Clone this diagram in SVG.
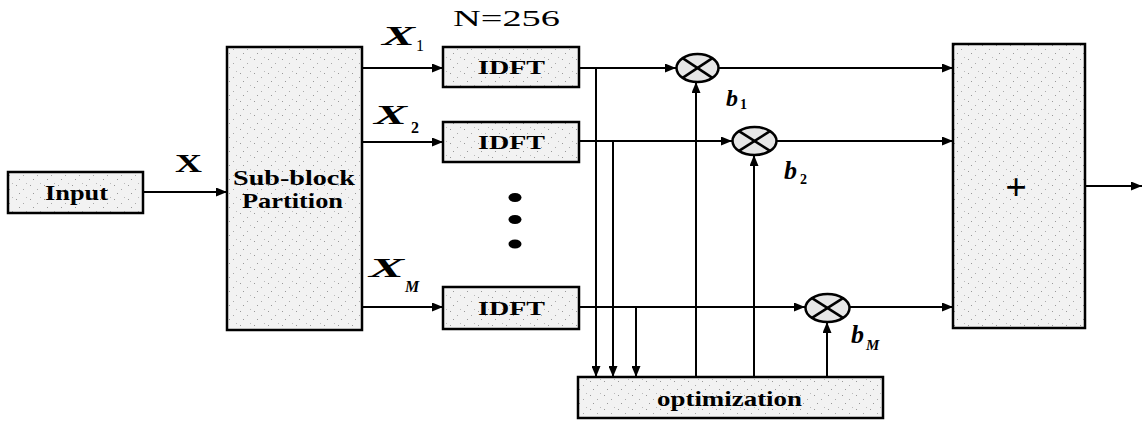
<svg xmlns="http://www.w3.org/2000/svg" width="1142" height="421" viewBox="0 0 1142 421">
<style>
.box{fill:url(#speck);stroke:#000;stroke-width:2.5}
.mul{fill:#e6e6e6;stroke:#000;stroke-width:2.5}
.cross{stroke:#000;stroke-width:2.5}
.arr{stroke:#000;stroke-width:2;fill:none;marker-end:url(#ah)}
.lbl{font-family:"Liberation Serif","Times New Roman",serif;font-weight:bold;fill:#000}
.it{font-family:"Liberation Serif","Times New Roman",serif;font-weight:bold;font-style:italic;fill:#000}
.rg{font-family:"Liberation Serif","Times New Roman",serif;fill:#000}
</style>
<defs>
<pattern id="speck" width="14" height="14" patternUnits="userSpaceOnUse">
<rect width="14" height="14" fill="#f2f2f2"/>
<rect x="2" y="3" width="1" height="1" fill="#999"/>
<rect x="9" y="7" width="1" height="1" fill="#aaa"/>
<rect x="5" y="11" width="1" height="1" fill="#999"/>
<rect x="12" y="1" width="1" height="1" fill="#bbb"/>
</pattern>
<marker id="ah" viewBox="0 0 11 9" refX="11" refY="4.5" markerWidth="11" markerHeight="9" markerUnits="userSpaceOnUse" orient="auto">
<path d="M0,0 L11,4.5 L0,9 Z" fill="#000"/>
</marker>
</defs>

<g id="connectors">
<line class="arr" x1="143" y1="192" x2="227" y2="192"/>
<line class="arr" x1="362" y1="68" x2="443" y2="68"/>
<line class="arr" x1="362" y1="142" x2="443" y2="142"/>
<line class="arr" x1="362" y1="307" x2="443" y2="307"/>
<line class="arr" x1="579" y1="68" x2="676" y2="68"/>
<line class="arr" x1="579" y1="141" x2="732" y2="141"/>
<line class="arr" x1="579" y1="307" x2="805" y2="307"/>
<line class="arr" x1="719" y1="68" x2="953" y2="68"/>
<line class="arr" x1="777" y1="141" x2="953" y2="141"/>
<line class="arr" x1="850" y1="307" x2="953" y2="307"/>
<line class="arr" x1="1085" y1="186" x2="1142" y2="186"/>
<line class="arr" x1="596" y1="68" x2="596" y2="377"/>
<line class="arr" x1="613" y1="141" x2="613" y2="377"/>
<line class="arr" x1="636" y1="307" x2="636" y2="377"/>
<line class="arr" x1="696" y1="377" x2="696" y2="82"/>
<line class="arr" x1="754" y1="377" x2="754" y2="155"/>
<line class="arr" x1="827" y1="377" x2="827" y2="322"/>
</g>

<g id="input">
<rect class="box" x="8" y="172" width="135" height="41"/>
<text class="lbl" x="45" y="200" font-size="21" textLength="63" lengthAdjust="spacingAndGlyphs">Input</text>
</g>
<g id="x-label">
<text class="lbl" x="175" y="172" font-size="26" textLength="27" lengthAdjust="spacingAndGlyphs">X</text>
</g>

<g id="partition">
<rect class="box" x="227" y="47" width="135" height="283"/>
<text class="lbl" x="233" y="185" font-size="22" textLength="122" lengthAdjust="spacingAndGlyphs">Sub-block</text>
<text class="lbl" x="242" y="208" font-size="22" textLength="101" lengthAdjust="spacingAndGlyphs">Partition</text>
</g>

<g id="n-label">
<text class="rg" x="453" y="26" font-size="24" textLength="107" lengthAdjust="spacingAndGlyphs">N=256</text>
</g>

<g id="x1-label">
<text class="it" x="382" y="45" font-size="27" textLength="33" lengthAdjust="spacingAndGlyphs">X</text>
<text class="rg" x="416" y="51" font-size="16">1</text>
</g>
<g id="x2-label">
<text class="it" x="374" y="124" font-size="27" textLength="33" lengthAdjust="spacingAndGlyphs">X</text>
<text class="lbl" x="411" y="133" font-size="16">2</text>
</g>
<g id="xm-label">
<text class="it" x="369" y="277" font-size="27" textLength="35" lengthAdjust="spacingAndGlyphs">X</text>
<text class="it" x="405" y="292" font-size="16">M</text>
</g>

<g id="idft1">
<rect class="box" x="443" y="47" width="136" height="40"/>
<text class="lbl" x="478" y="74" font-size="18" textLength="67" lengthAdjust="spacingAndGlyphs">IDFT</text>
</g>
<g id="idft2">
<rect class="box" x="443" y="122" width="136" height="40"/>
<text class="lbl" x="478" y="149" font-size="18" textLength="67" lengthAdjust="spacingAndGlyphs">IDFT</text>
</g>
<g id="dots">
<ellipse cx="515" cy="197.5" rx="6.5" ry="4.5" fill="#000"/>
<ellipse cx="515" cy="219.5" rx="6.5" ry="4.5" fill="#000"/>
<ellipse cx="515" cy="244" rx="6.5" ry="4.5" fill="#000"/>
</g>
<g id="idftm">
<rect class="box" x="443" y="287" width="136" height="42"/>
<text class="lbl" x="478" y="315" font-size="18" textLength="67" lengthAdjust="spacingAndGlyphs">IDFT</text>
</g>

<g id="mul1">
<ellipse class="mul" cx="697.5" cy="68" rx="21" ry="14"/>
<line class="cross" x1="682.6" y1="58.1" x2="712.4" y2="77.9"/>
<line class="cross" x1="682.6" y1="77.9" x2="712.4" y2="58.1"/>
</g>
<g id="b1-label">
<text class="it" x="726" y="106" font-size="24">b</text>
<text class="lbl" x="740" y="109" font-size="14">1</text>
</g>
<g id="mul2">
<ellipse class="mul" cx="754.5" cy="141" rx="22" ry="14"/>
<line class="cross" x1="739" y1="131.1" x2="770" y2="150.9"/>
<line class="cross" x1="739" y1="150.9" x2="770" y2="131.1"/>
</g>
<g id="b2-label">
<text class="it" x="784" y="179" font-size="26">b</text>
<text class="lbl" x="800" y="184" font-size="14">2</text>
</g>
<g id="mulm">
<ellipse class="mul" cx="827.5" cy="308" rx="22" ry="14"/>
<line class="cross" x1="812" y1="298.1" x2="843" y2="317.9"/>
<line class="cross" x1="812" y1="317.9" x2="843" y2="298.1"/>
</g>
<g id="bm-label">
<text class="it" x="851" y="343" font-size="26">b</text>
<text class="it" x="866" y="350" font-size="15">M</text>
</g>

<g id="sum">
<rect class="box" x="953" y="44" width="132" height="284"/>
<text class="lbl" x="1016" y="200" font-size="38" text-anchor="middle">+</text>
</g>

<g id="optimization">
<rect class="box" x="578" y="377" width="305" height="41"/>
<text class="lbl" x="657" y="406" font-size="21" textLength="145" lengthAdjust="spacingAndGlyphs">optimization</text>
</g>
</svg>
